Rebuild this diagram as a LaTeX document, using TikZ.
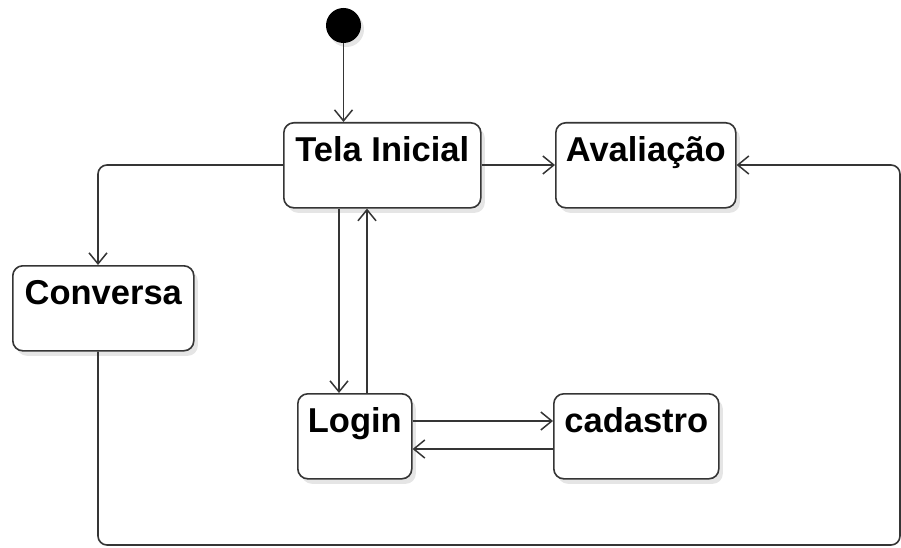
\documentclass[tikz,border=0pt]{standalone}
\usepackage{fontspec}
\setmainfont{Liberation Sans}
\usetikzlibrary{arrows.meta,shadows}
\definecolor{edge}{HTML}{353535}
\tikzset{
  statebox/.style={draw=edge, fill=white, line width=1.6pt, rounded corners=10pt,
    inner xsep=0pt, inner ysep=0pt, anchor=north west,
    text height=39pt, text depth=46pt,
    font=\fontsize{34.5}{40}\selectfont\bfseries,
    drop shadow={shadow xshift=4pt, shadow yshift=-5pt, opacity=0.10, fill=black}},
  conn/.style={draw=edge, line width=1.6pt, rounded corners=9pt,
    -{Straight Barb[length=11pt,width=18pt,line width=1.5pt]}},
}
\begin{document}
\begin{tikzpicture}[x=1pt,y=-1pt]
\useasboundingbox (0,0) rectangle (901,548);
\fill[white] (0,0) rectangle (901,548);

\node[circle, fill=black, minimum size=35pt, inner sep=0pt,
  drop shadow={shadow xshift=3pt, shadow yshift=-4pt, opacity=0.10, fill=black}] (init) at (343.5,25.5) {};

\node[statebox, minimum width=197pt] (tela) at (283,122) {Tela Inicial};
\node[statebox, minimum width=180pt] (aval) at (555,122) {Avaliação};
\node[statebox, minimum width=181pt] (conv) at (12,265) {Conversa};
\node[statebox, minimum width=114pt] (login) at (297,393) {Login};
\node[statebox, minimum width=165pt] (cad) at (553,393) {cadastro};

\coordinate (c1) at (98,165);
\coordinate (c2) at (98,545);
\coordinate (c3) at (900,545);
\coordinate (c4) at (900,165);

\draw[conn] (init.south) -- (tela.north -| init.south);
\draw[conn] (tela.east |- 0,165) -- (aval.west |- 0,165);
\draw[conn] (tela.west |- 0,165) -- (c1) -- (conv.north -| c1);
\draw[conn] (tela.south -| 339,0) -- (login.north -| 339,0);
\draw[conn] (login.north -| 367,0) -- (tela.south -| 367,0);
\draw[conn] (login.east |- 0,421) -- (cad.west |- 0,421);
\draw[conn] (cad.west |- 0,449) -- (login.east |- 0,449);
\draw[conn] (conv.south -| c2) -- (c2) -- (c3) -- (c4) -- (aval.east |- c4);
\end{tikzpicture}
\end{document}
